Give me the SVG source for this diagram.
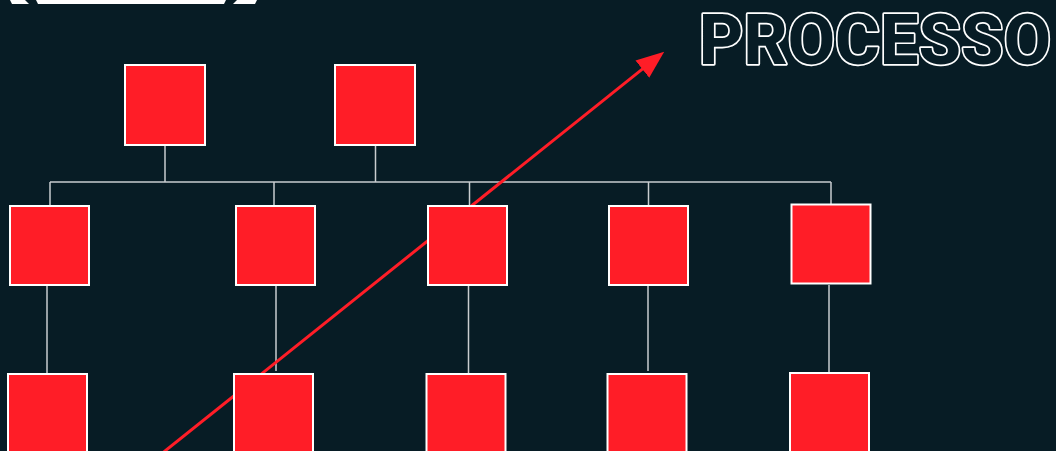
<svg xmlns="http://www.w3.org/2000/svg" width="1056" height="451" viewBox="0 0 1056 451">
  <defs>
    <style>
      .box { fill: #ff1d27; stroke: #ffffff; stroke-width: 2; }
      .conn { stroke: #c9cdd0; stroke-width: 1.5; fill: none; }
      .flow { stroke: #ff1d27; stroke-width: 3; fill: none; }
      .title { font-family: Roboto, "Liberation Sans", sans-serif; font-weight: 800; font-size: 70px; fill: #071c25; stroke: #ffffff; stroke-width: 3.4; paint-order: stroke fill; stroke-linejoin: round; }
    </style>
    <marker id="arrow" markerUnits="userSpaceOnUse" markerWidth="28" markerHeight="24" refX="2" refY="11" orient="auto">
      <polygon points="0,0 28,11 0,22" fill="#ff1d27"/>
    </marker>
  </defs>
  <rect width="1056" height="451" fill="#071c25"/>

  <g id="header-fragment" fill="#ffffff">
    <polygon points="10,0 25,0 29,4 12,4"/>
    <polygon points="36,0 226,0 224,4 38,4"/>
    <polygon points="237,0 257,0 255,4 233,4"/>
  </g>

  <text id="title" class="title" x="699" y="64" textLength="352" lengthAdjust="spacingAndGlyphs">PROCESSO</text>

  <g id="connectors">
    <line class="conn" x1="165" y1="145" x2="165" y2="182"/>
    <line class="conn" x1="375.5" y1="145" x2="375.5" y2="182"/>
    <line class="conn" x1="50" y1="182" x2="831" y2="182"/>
    <line class="conn" x1="50" y1="182" x2="50" y2="206"/>
    <line class="conn" x1="274" y1="182" x2="274" y2="206"/>
    <line class="conn" x1="469.5" y1="182" x2="469.5" y2="206"/>
    <line class="conn" x1="648.5" y1="182" x2="648.5" y2="206"/>
    <line class="conn" x1="831" y1="182" x2="831" y2="204"/>
    <line class="conn" x1="47" y1="286" x2="47" y2="373"/>
    <line class="conn" x1="276" y1="286" x2="276" y2="371"/>
    <line class="conn" x1="468.5" y1="286" x2="468.5" y2="373"/>
    <line class="conn" x1="648" y1="286" x2="648" y2="371"/>
    <line class="conn" x1="829" y1="285" x2="829" y2="372"/>
    <line id="flow-arrow" class="flow" x1="152" y1="461.4" x2="643.9" y2="67.9" marker-end="url(#arrow)"/>
  </g>

  <g id="n-top-1"><rect class="box" x="125" y="65" width="80" height="80"/></g>
  <g id="n-top-2"><rect class="box" x="335" y="65" width="80" height="80"/></g>

  <g id="n-mid-1"><rect class="box" x="10" y="206" width="79" height="79"/></g>
  <g id="n-mid-2"><rect class="box" x="236" y="206" width="79" height="79"/></g>
  <g id="n-mid-3"><rect class="box" x="428" y="206" width="79" height="79"/></g>
  <g id="n-mid-4"><rect class="box" x="609" y="206" width="79" height="79"/></g>
  <g id="n-mid-5"><rect class="box" x="791.5" y="204.5" width="79" height="79"/></g>

  <g id="n-bot-1"><rect class="box" x="8" y="374" width="79" height="79"/></g>
  <g id="n-bot-2"><rect class="box" x="234" y="374" width="79" height="79"/></g>
  <g id="n-bot-3"><rect class="box" x="426.5" y="374" width="79" height="79"/></g>
  <g id="n-bot-4"><rect class="box" x="607.5" y="374" width="79" height="79"/></g>
  <g id="n-bot-5"><rect class="box" x="790" y="373" width="79" height="79"/></g>
</svg>
